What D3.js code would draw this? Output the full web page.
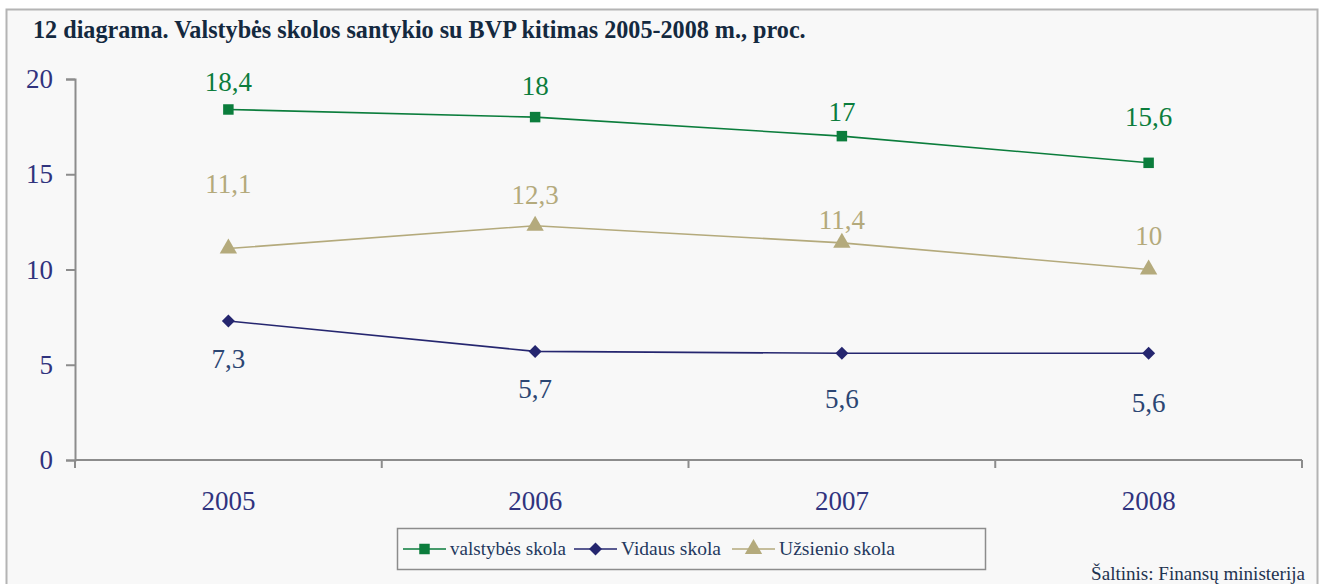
<!DOCTYPE html>
<html><head><meta charset="utf-8">
<script src="https://cdn.jsdelivr.net/npm/d3@7"></script>
<style>body{margin:0;background:#fff}svg{display:block}text{font-family:Liberation Serif, serif}</style>
</head><body>
<script>
const years = ["2005","2006","2007","2008"];
const valstybes = [18.4, 18, 17, 15.6];
const vidaus = [7.3, 5.7, 5.6, 5.6];
const uzsienio = [11.1, 12.3, 11.4, 10];
const yTicks = [0,5,10,15,20];
const seriesNames = ["valstybės skola","Vidaus skola","Užsienio skola"];
// label vertical offsets (styling, px)
const labelDy = {
  valstybes: [-28,-32,-25,-46],
  uzsienio: [-65,-31,-23,-34],
  vidaus: [38,37,45,49]
};

const W=1325,H=584;
const serif='Liberation Serif';
const svg=d3.select("body").append("svg").attr("width",W).attr("height",H);
svg.append("rect").attr("x",6.5).attr("y",9.5).attr("width",1311).attr("height",H).attr("fill","#f8f8f8").attr("stroke","#b4b4b4").attr("stroke-width",2);

function fit(sel,w){
  const n=sel.node(); const fs=parseFloat(sel.style("font-size"));
  const len=n.getComputedTextLength(); sel.style("font-size",(fs*w/len).toFixed(2)+"px");
}

const title=svg.append("text").attr("x",33).attr("y",38).text("12 diagrama. Valstybės skolos santykio su BVP kitimas 2005-2008 m., proc.")
  .style("font-family",serif).style("font-weight","bold").style("font-size","20px").attr("fill","#14293f");
fit(title,773);

const x=d3.scaleBand().domain(years).range([75,1302]);
const y=d3.scaleLinear().domain([0,20]).range([460,79]);
const axisCol="#8c8c8c";

const gy=svg.append("g").attr("transform","translate(75,0)").call(d3.axisLeft(y).tickValues(yTicks).tickSize(9).tickPadding(13));
const gx=svg.append("g").attr("transform","translate(0,460)").call(d3.axisBottom(x).tickSize(0).tickPadding(31));
[gy,gx].forEach(g=>{
  g.attr("font-family",null).attr("font-size",null);
  g.select(".domain").attr("stroke",axisCol).attr("stroke-width",2);
  g.selectAll(".tick line").attr("stroke",axisCol).attr("stroke-width",2);
  g.selectAll("text").style("font-family",serif).style("font-size","27px").attr("fill","#30337e");
});
gx.select(".domain").attr("d","M75,0H1302");
const edges=years.map(d=>x(d)).concat([x.range()[1]]);
gx.selectAll(".edge").data(edges).enter().append("line").attr("x1",d=>d).attr("x2",d=>d).attr("y1",0).attr("y2",8).attr("stroke",axisCol).attr("stroke-width",2);

const cx=d=>x(d)+x.bandwidth()/2;
const series=[
  {key:"valstybes",vals:valstybes,color:"#0b7d3c",lab:"#0b7d3c",sym:d3.symbolSquare,size:110,rot:0},
  {key:"vidaus",vals:vidaus,color:"#25266f",lab:"#2c4673",sym:d3.symbolSquare,size:85,rot:45},
  {key:"uzsienio",vals:uzsienio,color:"#b4aa7c",lab:"#b4aa7c",sym:d3.symbolTriangle,size:130,rot:0}
];
const line=d3.line().x((d,i)=>cx(years[i])).y(d=>y(d));
series.forEach(s=>{
  svg.append("path").attr("d",line(s.vals)).attr("fill","none").attr("stroke",s.color).attr("stroke-width",1.6);
  svg.selectAll(null).data(s.vals).enter().append("path")
    .attr("d",d3.symbol().type(s.sym).size(s.size))
    .attr("transform",(d,i)=>`translate(${cx(years[i])},${y(d)}) rotate(${s.rot})`)
    .attr("fill",s.color);
  svg.selectAll(null).data(s.vals).enter().append("text")
    .attr("x",(d,i)=>cx(years[i])).attr("y",(d,i)=>y(d)+labelDy[s.key][i]).attr("dy","0.35em")
    .attr("text-anchor","middle").style("font-family",serif).style("font-size","27px").attr("fill",s.lab)
    .text(d=>String(d).replace(".",","));
});

const lg=svg.append("g");
lg.append("rect").attr("x",397.5).attr("y",528.5).attr("width",588).attr("height",41).attr("fill","#f8f8f8").attr("stroke","#8c8c8c").attr("stroke-width",1.5);
const lx=[403,574,732];
const lw=[116,100,116];
series.forEach((s,i)=>{
  lg.append("line").attr("x1",lx[i]).attr("x2",lx[i]+43).attr("y1",549).attr("y2",549).attr("stroke",s.color).attr("stroke-width",1.6);
  lg.append("path").attr("d",d3.symbol().type(s.sym).size(s.size))
    .attr("transform",`translate(${lx[i]+21.5},549) rotate(${s.rot})`).attr("fill",s.color);
  const t=lg.append("text").attr("x",lx[i]+47).attr("y",549).attr("dy","0.33em").text(seriesNames[i])
    .style("font-family",serif).style("font-size","21px").attr("fill","#24385e");
  fit(t,lw[i]);
});

const src=svg.append("text").attr("x",1305).attr("y",580).attr("text-anchor","end").text("Šaltinis: Finansų ministerija")
  .style("font-family",serif).style("font-size","17px").attr("fill","#1f3350");
fit(src,214);
</script>
</body></html>
